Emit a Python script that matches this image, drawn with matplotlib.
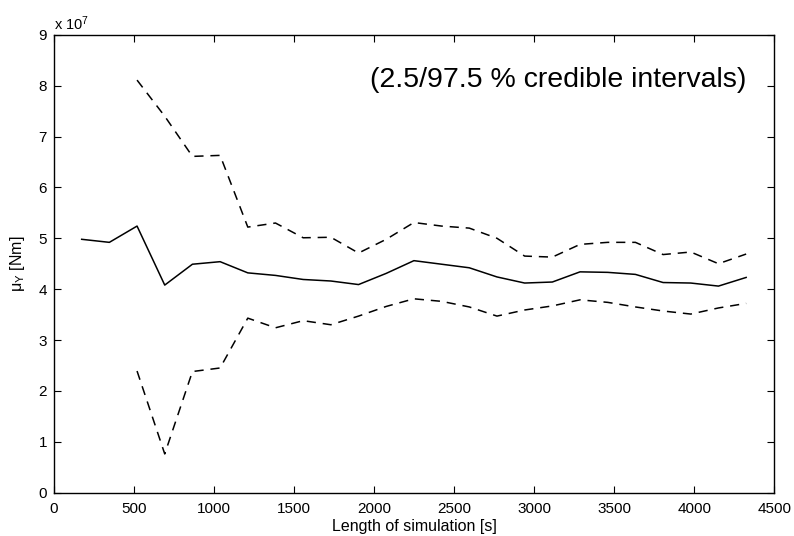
import numpy as np
import matplotlib
matplotlib.use('Agg')
import matplotlib.pyplot as plt

plt.rcParams['font.family'] = ['Liberation Sans', 'DejaVu Sans']
plt.rcParams['mathtext.fontset'] = 'custom'
plt.rcParams['mathtext.rm'] = 'Liberation Sans'
plt.rcParams['mathtext.it'] = 'Liberation Sans:italic'

# simulation lengths [s]
t_sim = [173, 346, 519, 692, 865, 1038, 1211, 1384, 1557, 1730, 1903, 2076,
         2249, 2422, 2595, 2768, 2941, 3114, 3287, 3460, 3633, 3806, 3979,
         4152, 4325]

# posterior mean of mu_Y, in units of 1e7 Nm
mu_mean = [4.98, 4.92, 5.24, 4.08, 4.49, 4.54, 4.32, 4.27, 4.19, 4.16, 4.09,
           4.31, 4.56, 4.49, 4.42, 4.24, 4.12, 4.14, 4.34, 4.33, 4.29, 4.13,
           4.12, 4.06, 4.23]

# 2.5 / 97.5 % credible bounds (start at the third run)
t_ci = t_sim[2:]
mu_upper = [8.11, 7.40, 6.61, 6.63, 5.22, 5.30, 5.01, 5.02, 4.71, 4.98, 5.31,
            5.24, 5.20, 5.00, 4.65, 4.63, 4.88, 4.92, 4.92, 4.68, 4.73, 4.50,
            4.69]
mu_lower = [2.39, 0.76, 2.38, 2.45, 3.43, 3.24, 3.38, 3.30, 3.47, 3.66, 3.81,
            3.76, 3.65, 3.47, 3.59, 3.67, 3.79, 3.74, 3.65, 3.57, 3.51, 3.63,
            3.72]

scale = 1e7

fig = plt.figure(figsize=(7.94, 5.36), dpi=100)
ax = fig.add_axes([0.068, 0.081, 0.907, 0.854])

ax.plot(t_sim, np.array(mu_mean) * scale, 'k-', lw=1.1)
ax.plot(t_ci, np.array(mu_upper) * scale, color='k', lw=1.1, ls=(0, (6, 4.5)))
ax.plot(t_ci, np.array(mu_lower) * scale, color='k', lw=1.1, ls=(0, (6, 4.5)))

ax.set_xlim(0, 4500)
ax.set_ylim(0, 9e7)
ax.set_xticks(np.arange(0, 4501, 500))
ax.set_yticks(np.arange(0, 10) * scale)
ax.set_yticklabels([str(i) for i in range(10)])

ax.tick_params(direction='in', length=5, width=0.8, top=True, right=True,
               labelsize=11, pad=5)
ax.tick_params(axis='x', pad=7)
for s in ax.spines.values():
    s.set_linewidth(1.0)

ax.text(0.0, 1.005, r'x 10$^{7}$', transform=ax.transAxes, fontsize=10.5,
        ha='left', va='bottom')
ax.text(0.961, 0.902, '(2.5/97.5 % credible intervals)', transform=ax.transAxes,
        fontsize=20.5, ha='right', va='center')

ax.set_xlabel('Length of simulation [s]', fontsize=11.5, labelpad=2)
ax.set_ylabel(r'μ$_{\mathrm{Y}}$ [Nm]', fontsize=11.5, labelpad=8)

fig.savefig('out.png', dpi=100)
